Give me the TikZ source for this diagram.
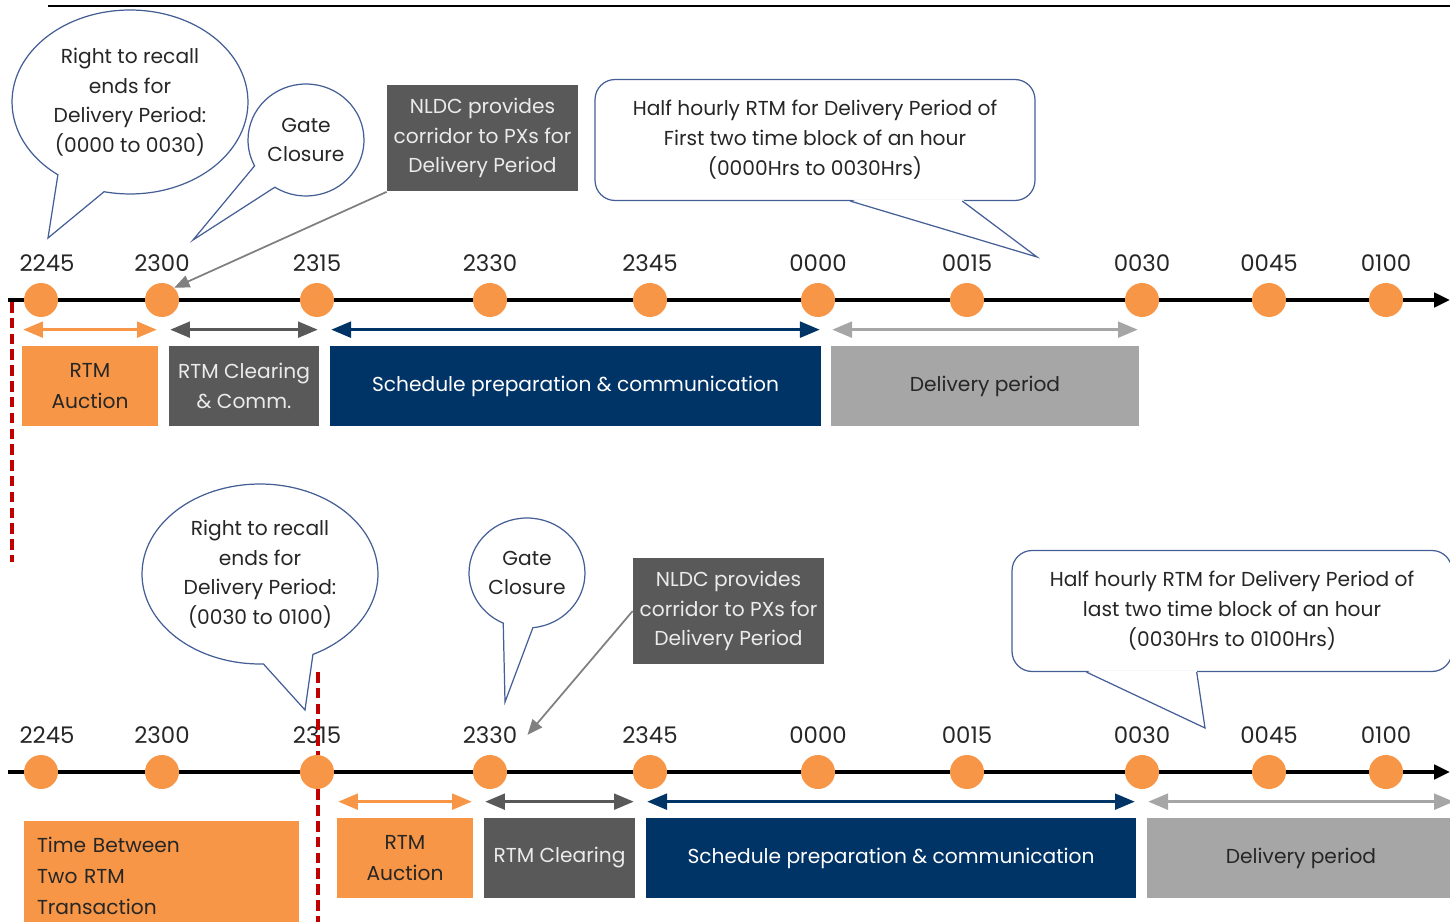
\documentclass[tikz,border=0pt]{standalone}
\usepackage{fontspec}
\setmainfont{Poppins}
\usepackage{tikz}
\usepackage{xcolor}
\usetikzlibrary{
    arrows,
    arrows.meta,
    calc,
    positioning,
    shapes,
    shapes.callouts
}
\definecolor{rtmorange}{RGB}{247,150,70}
\definecolor{clrgray}{RGB}{89,89,89}
\definecolor{schednavy}{RGB}{0,51,102}
\definecolor{delivgray}{RGB}{166,166,166}
\definecolor{bubbleblue}{RGB}{68,94,150}
\definecolor{recallred}{RGB}{192,0,0}
\definecolor{inktext}{RGB}{38,38,38}

\begin{document}
\begin{tikzpicture}[x=0.02cm, y=-0.02cm,
    dot/.style={circle, fill=rtmorange, minimum size=0.68cm, inner sep=0pt},
    timelbl/.style={font=\fontsize{13}{15}\selectfont, text=inktext, inner sep=0pt},
    axis/.style={-{Triangle[length=9pt, width=8pt]}, line width=2.5pt},
    span/.style={<->, >=triangle 45, line width=1.6pt, shorten <=1pt, shorten >=1pt},
    phase/.style={minimum height=1.6cm, inner sep=2pt, align=center, font=\fontsize{11.5}{17.5}\selectfont},
    bubble/.style={ellipse callout, draw=bubbleblue, fill=white, line width=0.7pt, inner sep=0pt, align=center, text=inktext, font=\fontsize{11.5}{16.8}\selectfont, callout pointer arc=25},
    hhbox/.style={draw=bubbleblue, fill=white, line width=0.7pt, rounded corners=0.4cm, minimum width=8.8cm, minimum height=2.42cm, align=center, text=inktext, font=\fontsize{11.5}{17}\selectfont},
    calloutedge/.style={draw=bubbleblue, line width=0.7pt},
    nldcbox/.style={fill=clrgray, text=white!92!black, minimum width=3.82cm, minimum height=2.14cm, align=center, inner sep=0pt, font=\fontsize{11.5}{17}\selectfont},
    pointer/.style={->, >=triangle 45, draw=gray, line width=1pt},
    recall/.style={recallred, line width=2pt, dash pattern=on 6pt off 3pt}
]
\useasboundingbox (0,0) rectangle (1450,922);

\draw[line width=0.8pt] (48,6) -- (1450,6);

% ---- first timeline (0000 to 0030)
\node[bubble, minimum width=4.72cm, minimum height=3.68cm, callout absolute pointer={(48,238)}] (recall1) at (130,102) {Right to recall\\ends for\\Delivery Period:\\(0000 to 0030)};
\node[bubble, minimum width=2.32cm, minimum height=2.24cm, callout absolute pointer={(193,240)}, callout pointer arc=30] (gate1) at (306,140) {Gate\\Closure};
\node[nldcbox] (nldc1) at (482.5,138) {NLDC provides\\corridor to PXs for\\Delivery Period};
\node[hhbox] (half1) at (815,140) {Half hourly RTM for Delivery Period of\\First two time block of an hour\\(0000Hrs to 0030Hrs)};
\coordinate (half1tip) at (1037,257);
\coordinate (half1a) at ($(half1.south west)!0.58!(half1.south east)$);
\coordinate (half1b) at ($(half1.south west)!0.834!(half1.south east)$);
\fill[white] ([yshift=1pt]half1a) -- (half1tip) -- ([yshift=1pt]half1b) -- cycle;
\draw[calloutedge] (half1a) -- (half1tip) -- (half1b);

\coordinate (axis1s) at (8,300);
\coordinate (axis1e) at (1450,300);
\draw[axis] (axis1s) -- (axis1e);

\node[dot] (t1) at (41,300) {};
\node[dot] (t2) at (162,300) {};
\node[dot] (t3) at (317,300) {};
\node[dot] (t4) at (490,300) {};
\node[dot] (t5) at (650,300) {};
\node[dot] (t6) at (818,300) {};
\node[dot] (t7) at (967,300) {};
\node[dot] (t8) at (1142,300) {};
\node[dot] (t9) at (1269,300) {};
\node[dot] (t10) at (1386,300) {};

\node[timelbl, above=0.22cm of t1, xshift=0.12cm] (tl1) {2245};
\node[timelbl, above=0.22cm of t2] (tl2) {2300};
\node[timelbl, above=0.22cm of t3] (tl3) {2315};
\node[timelbl, above=0.22cm of t4] (tl4) {2330};
\node[timelbl, above=0.22cm of t5] (tl5) {2345};
\node[timelbl, above=0.22cm of t6] (tl6) {0000};
\node[timelbl, above=0.22cm of t7] (tl7) {0015};
\node[timelbl, above=0.22cm of t8] (tl8) {0030};
\node[timelbl, above=0.22cm of t9] (tl9) {0045};
\node[timelbl, above=0.22cm of t10] (tl10) {0100};

\draw[pointer] (nldc1.south west) -- (t2.north east);

\node[phase, fill=rtmorange, text=inktext, minimum width=2.72cm] (auction1) at (90,386) {RTM\\Auction};
\node[phase, fill=clrgray, text=white!92!black, minimum width=3.0cm] (clearing1) at (244,386) {RTM Clearing\\\& Comm.};
\node[phase, fill=schednavy, text=white, minimum width=9.82cm] (sched1) at (575.5,386) {Schedule preparation \& communication};
\node[phase, fill=delivgray, text=inktext, minimum width=6.16cm] (deliv1) at (985,386) {Delivery period};

\draw[span, rtmorange] ([yshift=0.32cm]auction1.north west) -- ([yshift=0.32cm]auction1.north east);
\draw[span, clrgray] ([yshift=0.32cm]clearing1.north west) -- ([yshift=0.32cm]clearing1.north east);
\draw[span, schednavy] ([yshift=0.32cm]sched1.north west) -- ([yshift=0.32cm]sched1.north east);
\draw[span, delivgray] ([yshift=0.32cm]deliv1.north west) -- ([yshift=0.32cm]deliv1.north east);

\draw[recall] (12,302) -- (12,562);

% ---- second timeline (0030 to 0100)
\node[bubble, minimum width=4.72cm, minimum height=3.6cm, callout absolute pointer={(305,710)}] (recall2) at (260,574) {Right to recall\\ends for\\Delivery Period:\\(0030 to 0100)};
\node[bubble, minimum width=2.32cm, minimum height=2.2cm, callout absolute pointer={(505,702)}, callout pointer arc=30] (gate2) at (527,573) {Gate\\Closure};
\node[nldcbox] (nldc2) at (728.5,611) {NLDC provides\\corridor to PXs for\\Delivery Period};
\node[hhbox] (half2) at (1232,611) {Half hourly RTM for Delivery Period of\\last two time block of an hour\\(0030Hrs to 0100Hrs)};
\coordinate (half2tip) at (1205,728);
\coordinate (half2a) at ($(half2.south west)!0.17!(half2.south east)$);
\coordinate (half2b) at ($(half2.south west)!0.42!(half2.south east)$);
\fill[white] ([yshift=1pt]half2a) -- (half2tip) -- ([yshift=1pt]half2b) -- cycle;
\draw[calloutedge] (half2a) -- (half2tip) -- (half2b);

\coordinate (axis2s) at (8,772);
\coordinate (axis2e) at (1450,772);
\draw[axis] (axis2s) -- (axis2e);

\node[dot] (b1) at (41,772) {};
\node[dot] (b2) at (162,772) {};
\node[dot] (b3) at (317,772) {};
\node[dot] (b4) at (490,772) {};
\node[dot] (b5) at (650,772) {};
\node[dot] (b6) at (818,772) {};
\node[dot] (b7) at (967,772) {};
\node[dot] (b8) at (1142,772) {};
\node[dot] (b9) at (1269,772) {};
\node[dot] (b10) at (1386,772) {};

\node[timelbl, above=0.22cm of b1, xshift=0.12cm] (bl1) {2245};
\node[timelbl, above=0.22cm of b2] (bl2) {2300};
\node[timelbl, above=0.22cm of b3] (bl3) {2315};
\node[timelbl, above=0.22cm of b4] (bl4) {2330};
\node[timelbl, above=0.22cm of b5] (bl5) {2345};
\node[timelbl, above=0.22cm of b6] (bl6) {0000};
\node[timelbl, above=0.22cm of b7] (bl7) {0015};
\node[timelbl, above=0.22cm of b8] (bl8) {0030};
\node[timelbl, above=0.22cm of b9] (bl9) {0045};
\node[timelbl, above=0.22cm of b10] (bl10) {0100};

\draw[pointer] (nldc2.west) -- ([xshift=0.2cm]bl4.east);

\node[phase, fill=rtmorange, text=inktext, minimum width=5.5cm, minimum height=2.2cm, text width=4.98cm, inner xsep=0.26cm, align=left] (between2) at (161.5,876) {Time Between\\Two RTM\\Transaction};
\node[phase, fill=rtmorange, text=inktext, minimum width=2.72cm] (auction2) at (405,858) {RTM\\Auction};
\node[phase, fill=clrgray, text=white!92!black, minimum width=3.02cm] (clearing2) at (559.5,858) {RTM Clearing};
\node[phase, fill=schednavy, text=white, minimum width=9.8cm] (sched2) at (891,858) {Schedule preparation \& communication};
\node[phase, fill=delivgray, text=inktext, minimum width=6.16cm] (deliv2) at (1301,858) {Delivery period};

\draw[span, rtmorange] ([yshift=0.32cm]auction2.north west) -- ([yshift=0.32cm]auction2.north east);
\draw[span, clrgray] ([yshift=0.32cm]clearing2.north west) -- ([yshift=0.32cm]clearing2.north east);
\draw[span, schednavy] ([yshift=0.32cm]sched2.north west) -- ([yshift=0.32cm]sched2.north east);
\draw[span, delivgray] ([yshift=0.32cm]deliv2.north west) -- ([yshift=0.32cm]deliv2.north east);

\draw[recall] (318,672) -- ([xshift=0.02cm]b3.north);
\draw[recall] ([xshift=0.02cm]b3.south) -- (318,922);
\end{tikzpicture}
\end{document}
